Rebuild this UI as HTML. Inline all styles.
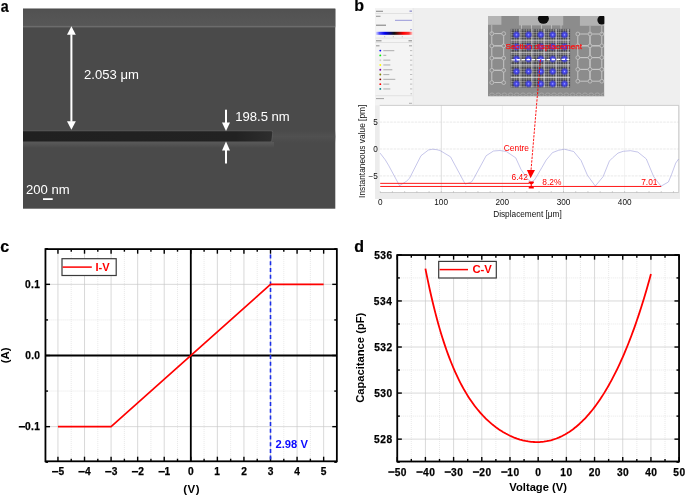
<!DOCTYPE html>
<html><head><meta charset="utf-8"><style>
html,body{margin:0;padding:0;background:#fff;}
svg{display:block;will-change:transform;font-family:"Liberation Sans", sans-serif;}
</style></head><body>
<svg width="685" height="496" viewBox="0 0 685 496">
<defs>
<filter id="soft" x="0" y="0" width="1" height="1"><feGaussianBlur stdDeviation="0.35"/></filter>
<linearGradient id="cbar" x1="0" y1="0" x2="1" y2="0"><stop offset="0" stop-color="#e0e0ff"/><stop offset="0.1" stop-color="#5050ff"/><stop offset="0.25" stop-color="#0000f0"/><stop offset="0.5" stop-color="#101010"/><stop offset="0.75" stop-color="#ff0000"/><stop offset="0.9" stop-color="#ff3030"/><stop offset="1" stop-color="#ffd0d0"/></linearGradient>
<radialGradient id="bdot"><stop offset="0" stop-color="#b0b0ff"/><stop offset="0.25" stop-color="#5050ff" stop-opacity="0.95"/><stop offset="0.55" stop-color="#2e2ef0" stop-opacity="0.7"/><stop offset="0.85" stop-color="#2525d8" stop-opacity="0.25"/><stop offset="1" stop-color="#2020d0" stop-opacity="0"/></radialGradient>
<linearGradient id="topband" x1="0" y1="0" x2="0" y2="1"><stop offset="0" stop-color="#4b4b4b"/><stop offset="0.1" stop-color="#525252"/><stop offset="1" stop-color="#575757"/></linearGradient>
<linearGradient id="bandg" x1="23" y1="0" x2="273" y2="0" gradientUnits="userSpaceOnUse"><stop offset="0" stop-color="#202020"/><stop offset="0.85" stop-color="#222"/><stop offset="1" stop-color="#2e2e2e"/></linearGradient>
<linearGradient id="streak" x1="0" y1="0" x2="0" y2="1"><stop offset="0" stop-color="#505050" stop-opacity="0"/><stop offset="0.5" stop-color="#515151" stop-opacity="0.9"/><stop offset="1" stop-color="#505050" stop-opacity="0"/></linearGradient>
<linearGradient id="halo" x1="0" y1="0" x2="0" y2="1"><stop offset="0" stop-color="#5a5a5a"/><stop offset="1" stop-color="#4a4a4a"/></linearGradient>
</defs>
<text transform="translate(0.75 11.5) scale(0.89 1)" style="font-size:16px;font-weight:bold" stroke="#000" stroke-width="0.2">a</text>
<text x="354.15" y="11.40" style="font-size:16.0px;font-weight:bold;" fill="#000" stroke="#000" stroke-width="0.2">b</text>
<text x="0.28" y="251.90" style="font-size:16.0px;font-weight:bold;" fill="#000" stroke="#000" stroke-width="0.2">c</text>
<text x="354.34" y="251.60" style="font-size:16.0px;font-weight:bold;" fill="#000" stroke="#000" stroke-width="0.2">d</text>
<g>
<rect x="23" y="8.7" width="312.3" height="200" fill="#4a4a4a"/>
<rect x="23" y="8.7" width="312.3" height="17.3" fill="url(#topband)"/>
<rect x="23" y="25.9" width="312.3" height="1.5" fill="#6c6c6c"/>
<rect x="23" y="142" width="251" height="6" fill="url(#halo)"/>
<rect x="272" y="130" width="63.3" height="13" fill="url(#streak)"/>
<path d="M23 130.6 L271.6 130.6 Q273.4 130.6 273.2 132.4 L272.2 140.8 Q272 142.2 270.6 142.2 L23 142.2 Z" fill="#5a5a5a"/>
<path d="M23 131.3 L271 131.3 Q272.4 131.3 272.3 132.6 L271.4 140.4 Q271.2 141.5 270 141.5 L23 141.5 Z" fill="url(#bandg)"/>
<rect x="70.40" y="34.30" width="2.0" height="87.50" fill="#fff"/>
<path d="M71.40 26.30 L75.80 34.80 L67.00 34.80 Z" fill="#fff"/>
<path d="M71.40 129.80 L75.80 121.30 L67.00 121.30 Z" fill="#fff"/>
<rect x="225.00" y="109.70" width="2.0" height="13.40" fill="#fff"/>
<path d="M226.00 131.00 L230.00 122.60 L222.00 122.60 Z" fill="#fff"/>
<rect x="225.00" y="149.90" width="2.0" height="13.60" fill="#fff"/>
<path d="M226.00 141.60 L230.00 150.40 L222.00 150.40 Z" fill="#fff"/>
<text x="84.04" y="78.60" style="font-size:13.1px;" fill="#fff" >2.053 μm</text>
<text x="235.20" y="120.60" style="font-size:13.1px;" fill="#fff" >198.5 nm</text>
<text x="25.94" y="194.30" style="font-size:13.1px;" fill="#fff" >200 nm</text>
<rect x="43" y="198.2" width="9.7" height="1.8" fill="#fff"/>
</g>
<g>
<rect x="375" y="8" width="305" height="191" fill="#ececec"/>
<rect x="413.5" y="8" width="266.5" height="97.4" fill="#efefef"/>
<rect x="375.2" y="8" width="37.6" height="97.4" fill="#f4f4f4"/>
<rect x="412.7" y="8" width="0.9" height="97.4" fill="#e8e8e8"/>
<rect x="376.0" y="10.7" width="7.0" height="1.3" fill="#666" opacity="0.6"/>
<rect x="409.5" y="10.5" width="2.5" height="1.3" fill="#5050b0" opacity="0.6"/>
<rect x="375.6" y="13.2" width="36.8" height="0.5" fill="#cfcfcf"/>
<rect x="376.0" y="15.7" width="4.5" height="1.3" fill="#777" opacity="0.6"/>
<rect x="395.0" y="19.8" width="17.0" height="1.1" fill="#6a6acc" opacity="0.6"/>
<rect x="376.0" y="24.6" width="10.0" height="1.3" fill="#555" opacity="0.6"/>
<rect x="410.0" y="29.2" width="2.0" height="1.0" fill="#6a6acc" opacity="0.6"/>
<rect x="375.8" y="31.8" width="36.8" height="3" fill="url(#cbar)"/>
<rect x="384.0" y="36.3" width="1.2" height="0.9" fill="#999" opacity="0.6"/>
<rect x="392.8" y="36.3" width="1.2" height="0.9" fill="#999" opacity="0.6"/>
<rect x="401.8" y="36.3" width="1.2" height="0.9" fill="#999" opacity="0.6"/>
<rect x="375.6" y="37.8" width="36.8" height="0.5" fill="#cfcfcf"/>
<rect x="376.0" y="40.1" width="5.5" height="1.3" fill="#666" opacity="0.6"/>
<rect x="408.5" y="40.1" width="3.5" height="1.3" fill="#666" opacity="0.6"/>
<rect x="375.6" y="42.5" width="36.8" height="0.5" fill="#cfcfcf"/>
<rect x="376.0" y="45.1" width="3.5" height="1.3" fill="#777" opacity="0.6"/>
<rect x="409.0" y="45.1" width="3.0" height="1.3" fill="#888" opacity="0.6"/>
<circle cx="380.3" cy="50.60" r="0.95" fill="#0000ff"/>
<rect x="383.3" y="50.1" width="11.0" height="1.1" fill="#888" opacity="0.6"/>
<rect x="410.0" y="50.1" width="2.2" height="1.0" fill="#999" opacity="0.6"/>
<circle cx="380.3" cy="55.39" r="0.95" fill="#00ee00"/>
<rect x="383.3" y="54.8" width="3.0" height="1.1" fill="#888" opacity="0.6"/>
<rect x="410.0" y="54.9" width="2.2" height="1.0" fill="#999" opacity="0.6"/>
<circle cx="380.3" cy="60.18" r="0.95" fill="#cccccc"/>
<rect x="383.3" y="59.6" width="7.0" height="1.1" fill="#888" opacity="0.6"/>
<rect x="410.0" y="59.7" width="2.2" height="1.0" fill="#999" opacity="0.6"/>
<circle cx="380.3" cy="64.97" r="0.95" fill="#ffff00"/>
<rect x="383.3" y="64.4" width="7.0" height="1.1" fill="#888" opacity="0.6"/>
<rect x="410.0" y="64.5" width="2.2" height="1.0" fill="#999" opacity="0.6"/>
<circle cx="380.3" cy="69.76" r="0.95" fill="#8000a0"/>
<rect x="383.3" y="69.2" width="9.0" height="1.1" fill="#888" opacity="0.6"/>
<rect x="410.0" y="69.3" width="2.2" height="1.0" fill="#999" opacity="0.6"/>
<circle cx="380.3" cy="74.55" r="0.95" fill="#808000"/>
<rect x="383.3" y="74.0" width="6.0" height="1.1" fill="#888" opacity="0.6"/>
<rect x="410.0" y="74.0" width="2.2" height="1.0" fill="#999" opacity="0.6"/>
<circle cx="380.3" cy="79.34" r="0.95" fill="#800000"/>
<rect x="383.3" y="78.8" width="12.0" height="1.1" fill="#888" opacity="0.6"/>
<rect x="410.0" y="78.8" width="2.2" height="1.0" fill="#999" opacity="0.6"/>
<circle cx="380.3" cy="84.13" r="0.95" fill="#ff0000"/>
<rect x="383.3" y="83.6" width="6.0" height="1.1" fill="#888" opacity="0.6"/>
<rect x="410.0" y="83.6" width="2.2" height="1.0" fill="#999" opacity="0.6"/>
<circle cx="380.3" cy="88.92" r="0.95" fill="#008080"/>
<rect x="383.3" y="88.4" width="7.0" height="1.1" fill="#888" opacity="0.6"/>
<rect x="410.0" y="88.4" width="2.2" height="1.0" fill="#999" opacity="0.6"/>
<rect x="410.5" y="93.3" width="1.5" height="1.0" fill="#999" opacity="0.6"/>
<rect x="375.6" y="95.6" width="36.8" height="0.5" fill="#cfcfcf"/>
<rect x="376.0" y="98.0" width="8.0" height="1.1" fill="#777" opacity="0.6"/>
<rect x="409.0" y="102.8" width="3.0" height="1.0" fill="#888" opacity="0.6"/>
<clipPath id="insclip"><rect x="488.0" y="16.0" width="116.4" height="80.5"/></clipPath>
<g clip-path="url(#insclip)"><g filter="url(#soft)">
<rect x="488.0" y="16.0" width="116.4" height="80.5" fill="#8c8c8c"/>
<rect x="488" y="16" width="13.4" height="8.8" fill="#b4b4b4"/>
<rect x="518.9" y="16" width="44.3" height="9.4" fill="#b2b2b2"/>
<rect x="579.9" y="16" width="24.5" height="9.8" fill="#b2b2b2"/>
<ellipse cx="543.4" cy="18.6" rx="5.5" ry="5.2" fill="#0a0a0a"/>
<ellipse cx="601.8" cy="20.0" rx="4.4" ry="4.6" fill="#0a0a0a"/>
<rect x="521.1" y="25" width="0.8" height="4" fill="#c4c4c4"/>
<rect x="531.0" y="25" width="0.8" height="4" fill="#c4c4c4"/>
<rect x="541.2" y="25" width="0.8" height="4" fill="#c4c4c4"/>
<rect x="551.1" y="25" width="0.8" height="4" fill="#c4c4c4"/>
<rect x="560.6" y="25" width="0.8" height="4" fill="#c4c4c4"/>
<rect x="491.8" y="33.6" width="11.9" height="12.2" rx="2.6" fill="none" stroke="#c6c6c6" stroke-width="1.0"/>
<rect x="491.8" y="45.9" width="11.9" height="12.2" rx="2.6" fill="none" stroke="#c6c6c6" stroke-width="1.0"/>
<rect x="491.8" y="58.1" width="11.9" height="12.2" rx="2.6" fill="none" stroke="#c6c6c6" stroke-width="1.0"/>
<rect x="491.8" y="70.3" width="11.9" height="12.2" rx="2.6" fill="none" stroke="#c6c6c6" stroke-width="1.0"/>
<circle cx="491.8" cy="33.6" r="1.9" fill="#8c8c8c" stroke="#c6c6c6" stroke-width="0.8"/>
<circle cx="491.8" cy="45.9" r="1.9" fill="#8c8c8c" stroke="#c6c6c6" stroke-width="0.8"/>
<circle cx="491.8" cy="58.1" r="1.9" fill="#8c8c8c" stroke="#c6c6c6" stroke-width="0.8"/>
<circle cx="491.8" cy="70.3" r="1.9" fill="#8c8c8c" stroke="#c6c6c6" stroke-width="0.8"/>
<circle cx="491.8" cy="82.6" r="1.9" fill="#8c8c8c" stroke="#c6c6c6" stroke-width="0.8"/>
<circle cx="503.7" cy="33.6" r="1.9" fill="#8c8c8c" stroke="#c6c6c6" stroke-width="0.8"/>
<circle cx="503.7" cy="45.9" r="1.9" fill="#8c8c8c" stroke="#c6c6c6" stroke-width="0.8"/>
<circle cx="503.7" cy="58.1" r="1.9" fill="#8c8c8c" stroke="#c6c6c6" stroke-width="0.8"/>
<circle cx="503.7" cy="70.3" r="1.9" fill="#8c8c8c" stroke="#c6c6c6" stroke-width="0.8"/>
<circle cx="503.7" cy="82.6" r="1.9" fill="#8c8c8c" stroke="#c6c6c6" stroke-width="0.8"/>
<rect x="491.4" y="24.8" width="0.8" height="8.8" fill="#c2c2c2"/>
<rect x="577.8" y="34.0" width="12.2" height="11.8" rx="2.6" fill="none" stroke="#c6c6c6" stroke-width="1.0"/>
<rect x="577.8" y="45.8" width="12.2" height="11.8" rx="2.6" fill="none" stroke="#c6c6c6" stroke-width="1.0"/>
<rect x="577.8" y="57.6" width="12.2" height="11.8" rx="2.6" fill="none" stroke="#c6c6c6" stroke-width="1.0"/>
<rect x="577.8" y="69.4" width="12.2" height="11.8" rx="2.6" fill="none" stroke="#c6c6c6" stroke-width="1.0"/>
<rect x="590.0" y="34.0" width="11.8" height="11.8" rx="2.6" fill="none" stroke="#c6c6c6" stroke-width="1.0"/>
<rect x="590.0" y="45.8" width="11.8" height="11.8" rx="2.6" fill="none" stroke="#c6c6c6" stroke-width="1.0"/>
<rect x="590.0" y="57.6" width="11.8" height="11.8" rx="2.6" fill="none" stroke="#c6c6c6" stroke-width="1.0"/>
<rect x="590.0" y="69.4" width="11.8" height="11.8" rx="2.6" fill="none" stroke="#c6c6c6" stroke-width="1.0"/>
<circle cx="577.8" cy="34.0" r="1.9" fill="#8c8c8c" stroke="#c6c6c6" stroke-width="0.8"/>
<circle cx="577.8" cy="45.8" r="1.9" fill="#8c8c8c" stroke="#c6c6c6" stroke-width="0.8"/>
<circle cx="577.8" cy="57.6" r="1.9" fill="#8c8c8c" stroke="#c6c6c6" stroke-width="0.8"/>
<circle cx="577.8" cy="69.4" r="1.9" fill="#8c8c8c" stroke="#c6c6c6" stroke-width="0.8"/>
<circle cx="577.8" cy="81.2" r="1.9" fill="#8c8c8c" stroke="#c6c6c6" stroke-width="0.8"/>
<circle cx="590.0" cy="34.0" r="1.9" fill="#8c8c8c" stroke="#c6c6c6" stroke-width="0.8"/>
<circle cx="590.0" cy="45.8" r="1.9" fill="#8c8c8c" stroke="#c6c6c6" stroke-width="0.8"/>
<circle cx="590.0" cy="57.6" r="1.9" fill="#8c8c8c" stroke="#c6c6c6" stroke-width="0.8"/>
<circle cx="590.0" cy="69.4" r="1.9" fill="#8c8c8c" stroke="#c6c6c6" stroke-width="0.8"/>
<circle cx="590.0" cy="81.2" r="1.9" fill="#8c8c8c" stroke="#c6c6c6" stroke-width="0.8"/>
<circle cx="601.8" cy="34.0" r="1.9" fill="#8c8c8c" stroke="#c6c6c6" stroke-width="0.8"/>
<circle cx="601.8" cy="45.8" r="1.9" fill="#8c8c8c" stroke="#c6c6c6" stroke-width="0.8"/>
<circle cx="601.8" cy="57.6" r="1.9" fill="#8c8c8c" stroke="#c6c6c6" stroke-width="0.8"/>
<circle cx="601.8" cy="69.4" r="1.9" fill="#8c8c8c" stroke="#c6c6c6" stroke-width="0.8"/>
<circle cx="601.8" cy="81.2" r="1.9" fill="#8c8c8c" stroke="#c6c6c6" stroke-width="0.8"/>
<rect x="589.6" y="25.8" width="0.8" height="8.2" fill="#c2c2c2"/>
<rect x="601.4" y="25.8" width="0.8" height="8.2" fill="#c2c2c2"/>
<ellipse cx="492.0" cy="94.6" rx="2.3" ry="1.6" fill="none" stroke="#acacac" stroke-width="0.8"/>
<ellipse cx="498.2" cy="94.6" rx="2.3" ry="1.6" fill="none" stroke="#acacac" stroke-width="0.8"/>
<ellipse cx="504.4" cy="94.6" rx="2.3" ry="1.6" fill="none" stroke="#acacac" stroke-width="0.8"/>
<ellipse cx="510.6" cy="94.6" rx="2.3" ry="1.6" fill="none" stroke="#acacac" stroke-width="0.8"/>
<ellipse cx="516.8" cy="94.6" rx="2.3" ry="1.6" fill="none" stroke="#acacac" stroke-width="0.8"/>
<ellipse cx="523.0" cy="94.6" rx="2.3" ry="1.6" fill="none" stroke="#acacac" stroke-width="0.8"/>
<ellipse cx="529.2" cy="94.6" rx="2.3" ry="1.6" fill="none" stroke="#acacac" stroke-width="0.8"/>
<ellipse cx="535.4" cy="94.6" rx="2.3" ry="1.6" fill="none" stroke="#acacac" stroke-width="0.8"/>
<ellipse cx="541.6" cy="94.6" rx="2.3" ry="1.6" fill="none" stroke="#acacac" stroke-width="0.8"/>
<ellipse cx="547.8" cy="94.6" rx="2.3" ry="1.6" fill="none" stroke="#acacac" stroke-width="0.8"/>
<ellipse cx="554.0" cy="94.6" rx="2.3" ry="1.6" fill="none" stroke="#acacac" stroke-width="0.8"/>
<ellipse cx="560.2" cy="94.6" rx="2.3" ry="1.6" fill="none" stroke="#acacac" stroke-width="0.8"/>
<ellipse cx="566.4" cy="94.6" rx="2.3" ry="1.6" fill="none" stroke="#acacac" stroke-width="0.8"/>
<ellipse cx="572.6" cy="94.6" rx="2.3" ry="1.6" fill="none" stroke="#acacac" stroke-width="0.8"/>
<ellipse cx="578.8" cy="94.6" rx="2.3" ry="1.6" fill="none" stroke="#acacac" stroke-width="0.8"/>
<ellipse cx="585.0" cy="94.6" rx="2.3" ry="1.6" fill="none" stroke="#acacac" stroke-width="0.8"/>
<ellipse cx="591.2" cy="94.6" rx="2.3" ry="1.6" fill="none" stroke="#acacac" stroke-width="0.8"/>
<ellipse cx="597.4" cy="94.6" rx="2.3" ry="1.6" fill="none" stroke="#acacac" stroke-width="0.8"/>
<ellipse cx="603.6" cy="94.6" rx="2.3" ry="1.6" fill="none" stroke="#acacac" stroke-width="0.8"/>
<rect x="510.7" y="28.9" width="59.4" height="58.5" fill="#48484c"/>
<rect x="511.50" y="28.9" width="0.55" height="58.5" fill="#d8d8d8" opacity="0.6"/>
<rect x="513.95" y="28.9" width="0.55" height="58.5" fill="#d8d8d8" opacity="0.6"/>
<rect x="516.40" y="28.9" width="0.55" height="58.5" fill="#d8d8d8" opacity="0.6"/>
<rect x="518.85" y="28.9" width="0.55" height="58.5" fill="#d8d8d8" opacity="0.6"/>
<rect x="521.30" y="28.9" width="0.55" height="58.5" fill="#d8d8d8" opacity="0.6"/>
<rect x="523.75" y="28.9" width="0.55" height="58.5" fill="#d8d8d8" opacity="0.6"/>
<rect x="526.20" y="28.9" width="0.55" height="58.5" fill="#d8d8d8" opacity="0.6"/>
<rect x="528.65" y="28.9" width="0.55" height="58.5" fill="#d8d8d8" opacity="0.6"/>
<rect x="531.10" y="28.9" width="0.55" height="58.5" fill="#d8d8d8" opacity="0.6"/>
<rect x="533.55" y="28.9" width="0.55" height="58.5" fill="#d8d8d8" opacity="0.6"/>
<rect x="536.00" y="28.9" width="0.55" height="58.5" fill="#d8d8d8" opacity="0.6"/>
<rect x="538.45" y="28.9" width="0.55" height="58.5" fill="#d8d8d8" opacity="0.6"/>
<rect x="540.90" y="28.9" width="0.55" height="58.5" fill="#d8d8d8" opacity="0.6"/>
<rect x="543.35" y="28.9" width="0.55" height="58.5" fill="#d8d8d8" opacity="0.6"/>
<rect x="545.80" y="28.9" width="0.55" height="58.5" fill="#d8d8d8" opacity="0.6"/>
<rect x="548.25" y="28.9" width="0.55" height="58.5" fill="#d8d8d8" opacity="0.6"/>
<rect x="550.70" y="28.9" width="0.55" height="58.5" fill="#d8d8d8" opacity="0.6"/>
<rect x="553.15" y="28.9" width="0.55" height="58.5" fill="#d8d8d8" opacity="0.6"/>
<rect x="555.60" y="28.9" width="0.55" height="58.5" fill="#d8d8d8" opacity="0.6"/>
<rect x="558.05" y="28.9" width="0.55" height="58.5" fill="#d8d8d8" opacity="0.6"/>
<rect x="560.50" y="28.9" width="0.55" height="58.5" fill="#d8d8d8" opacity="0.6"/>
<rect x="562.95" y="28.9" width="0.55" height="58.5" fill="#d8d8d8" opacity="0.6"/>
<rect x="565.40" y="28.9" width="0.55" height="58.5" fill="#d8d8d8" opacity="0.6"/>
<rect x="567.85" y="28.9" width="0.55" height="58.5" fill="#d8d8d8" opacity="0.6"/>
<rect x="510.7" y="29.70" width="59.4" height="0.55" fill="#d8d8d8" opacity="0.6"/>
<rect x="510.7" y="32.15" width="59.4" height="0.55" fill="#d8d8d8" opacity="0.6"/>
<rect x="510.7" y="34.60" width="59.4" height="0.55" fill="#d8d8d8" opacity="0.6"/>
<rect x="510.7" y="37.05" width="59.4" height="0.55" fill="#d8d8d8" opacity="0.6"/>
<rect x="510.7" y="39.50" width="59.4" height="0.55" fill="#d8d8d8" opacity="0.6"/>
<rect x="510.7" y="41.95" width="59.4" height="0.55" fill="#d8d8d8" opacity="0.6"/>
<rect x="510.7" y="44.40" width="59.4" height="0.55" fill="#d8d8d8" opacity="0.6"/>
<rect x="510.7" y="46.85" width="59.4" height="0.55" fill="#d8d8d8" opacity="0.6"/>
<rect x="510.7" y="49.30" width="59.4" height="0.55" fill="#d8d8d8" opacity="0.6"/>
<rect x="510.7" y="51.75" width="59.4" height="0.55" fill="#d8d8d8" opacity="0.6"/>
<rect x="510.7" y="54.20" width="59.4" height="0.55" fill="#d8d8d8" opacity="0.6"/>
<rect x="510.7" y="56.65" width="59.4" height="0.55" fill="#d8d8d8" opacity="0.6"/>
<rect x="510.7" y="59.10" width="59.4" height="0.55" fill="#d8d8d8" opacity="0.6"/>
<rect x="510.7" y="61.55" width="59.4" height="0.55" fill="#d8d8d8" opacity="0.6"/>
<rect x="510.7" y="64.00" width="59.4" height="0.55" fill="#d8d8d8" opacity="0.6"/>
<rect x="510.7" y="66.45" width="59.4" height="0.55" fill="#d8d8d8" opacity="0.6"/>
<rect x="510.7" y="68.90" width="59.4" height="0.55" fill="#d8d8d8" opacity="0.6"/>
<rect x="510.7" y="71.35" width="59.4" height="0.55" fill="#d8d8d8" opacity="0.6"/>
<rect x="510.7" y="73.80" width="59.4" height="0.55" fill="#d8d8d8" opacity="0.6"/>
<rect x="510.7" y="76.25" width="59.4" height="0.55" fill="#d8d8d8" opacity="0.6"/>
<rect x="510.7" y="78.70" width="59.4" height="0.55" fill="#d8d8d8" opacity="0.6"/>
<rect x="510.7" y="81.15" width="59.4" height="0.55" fill="#d8d8d8" opacity="0.6"/>
<rect x="510.7" y="83.60" width="59.4" height="0.55" fill="#d8d8d8" opacity="0.6"/>
<rect x="510.7" y="86.05" width="59.4" height="0.55" fill="#d8d8d8" opacity="0.6"/>
<rect x="519.55" y="28.9" width="0.9" height="58.5" fill="#f0f0f0" opacity="0.75"/>
<rect x="531.55" y="28.9" width="0.9" height="58.5" fill="#f0f0f0" opacity="0.75"/>
<rect x="543.85" y="28.9" width="0.9" height="58.5" fill="#f0f0f0" opacity="0.75"/>
<rect x="555.75" y="28.9" width="0.9" height="58.5" fill="#f0f0f0" opacity="0.75"/>
<rect x="567.55" y="28.9" width="0.9" height="58.5" fill="#f0f0f0" opacity="0.75"/>
<rect x="510.7" y="40.35" width="59.4" height="0.9" fill="#f0f0f0" opacity="0.75"/>
<rect x="510.7" y="52.35" width="59.4" height="0.9" fill="#f0f0f0" opacity="0.75"/>
<rect x="510.7" y="64.55" width="59.4" height="0.9" fill="#f0f0f0" opacity="0.75"/>
<rect x="510.7" y="77.05" width="59.4" height="0.9" fill="#f0f0f0" opacity="0.75"/>
<circle cx="516.5" cy="34.8" r="4.2" fill="url(#bdot)"/>
<circle cx="528.5" cy="34.8" r="4.2" fill="url(#bdot)"/>
<circle cx="540.8" cy="34.8" r="4.2" fill="url(#bdot)"/>
<circle cx="552.7" cy="34.8" r="4.2" fill="url(#bdot)"/>
<circle cx="564.5" cy="34.8" r="4.2" fill="url(#bdot)"/>
<circle cx="516.5" cy="46.8" r="4.2" fill="url(#bdot)"/>
<circle cx="528.5" cy="46.8" r="4.2" fill="url(#bdot)"/>
<circle cx="540.8" cy="46.8" r="4.2" fill="url(#bdot)"/>
<circle cx="552.7" cy="46.8" r="4.2" fill="url(#bdot)"/>
<circle cx="564.5" cy="46.8" r="4.2" fill="url(#bdot)"/>
<circle cx="516.5" cy="59.0" r="4.2" fill="url(#bdot)"/>
<circle cx="528.5" cy="59.0" r="4.2" fill="url(#bdot)"/>
<circle cx="540.8" cy="59.0" r="4.2" fill="url(#bdot)"/>
<circle cx="552.7" cy="59.0" r="4.2" fill="url(#bdot)"/>
<circle cx="564.5" cy="59.0" r="4.2" fill="url(#bdot)"/>
<circle cx="516.5" cy="71.5" r="4.2" fill="url(#bdot)"/>
<circle cx="528.5" cy="71.5" r="4.2" fill="url(#bdot)"/>
<circle cx="540.8" cy="71.5" r="4.2" fill="url(#bdot)"/>
<circle cx="552.7" cy="71.5" r="4.2" fill="url(#bdot)"/>
<circle cx="564.5" cy="71.5" r="4.2" fill="url(#bdot)"/>
<circle cx="516.5" cy="83.8" r="4.2" fill="url(#bdot)"/>
<circle cx="528.5" cy="83.8" r="4.2" fill="url(#bdot)"/>
<circle cx="540.8" cy="83.8" r="4.2" fill="url(#bdot)"/>
<circle cx="552.7" cy="83.8" r="4.2" fill="url(#bdot)"/>
<circle cx="564.5" cy="83.8" r="4.2" fill="url(#bdot)"/>
<line x1="511.6" y1="59.8" x2="569.2" y2="59.4" stroke="#fff" stroke-width="1.3" stroke-dasharray="3.4 1.6"/>
</g></g>
<text x="505.53" y="49.20" style="font-size:8.06px;" fill="#ff1010" stroke="#ff1010" stroke-width="0.25">Section displacement</text>
<rect x="379.7" y="105.4" width="299.0" height="87.1" fill="#fff"/>
<line x1="441.30" y1="105.4" x2="441.30" y2="192.5" stroke="#d0d0d0" stroke-width="0.7"/>
<line x1="502.40" y1="105.4" x2="502.40" y2="192.5" stroke="#ececec" stroke-width="0.7"/>
<line x1="563.50" y1="105.4" x2="563.50" y2="192.5" stroke="#d0d0d0" stroke-width="0.7"/>
<line x1="624.60" y1="105.4" x2="624.60" y2="192.5" stroke="#ececec" stroke-width="0.7"/>
<line x1="379.7" y1="122.10" x2="678.7" y2="122.10" stroke="#e0e0e0" stroke-width="0.7" stroke-dasharray="2.5 1"/>
<line x1="379.7" y1="149.00" x2="678.7" y2="149.00" stroke="#e0e0e0" stroke-width="0.7" stroke-dasharray="2.5 1"/>
<line x1="379.7" y1="175.90" x2="678.7" y2="175.90" stroke="#e0e0e0" stroke-width="0.7" stroke-dasharray="2.5 1"/>
<path d="M379.7 105.4 L678.7 105.4 L678.7 192.5 L380.0 192.5" fill="none" stroke="#bcbcbc" stroke-width="0.7"/>
<line x1="380.20" y1="192.5" x2="380.20" y2="191.2" stroke="#aaa" stroke-width="0.6"/>
<line x1="392.42" y1="192.5" x2="392.42" y2="191.2" stroke="#aaa" stroke-width="0.6"/>
<line x1="404.64" y1="192.5" x2="404.64" y2="191.2" stroke="#aaa" stroke-width="0.6"/>
<line x1="416.86" y1="192.5" x2="416.86" y2="191.2" stroke="#aaa" stroke-width="0.6"/>
<line x1="429.08" y1="192.5" x2="429.08" y2="191.2" stroke="#aaa" stroke-width="0.6"/>
<line x1="441.30" y1="192.5" x2="441.30" y2="191.2" stroke="#aaa" stroke-width="0.6"/>
<line x1="453.52" y1="192.5" x2="453.52" y2="191.2" stroke="#aaa" stroke-width="0.6"/>
<line x1="465.74" y1="192.5" x2="465.74" y2="191.2" stroke="#aaa" stroke-width="0.6"/>
<line x1="477.96" y1="192.5" x2="477.96" y2="191.2" stroke="#aaa" stroke-width="0.6"/>
<line x1="490.18" y1="192.5" x2="490.18" y2="191.2" stroke="#aaa" stroke-width="0.6"/>
<line x1="502.40" y1="192.5" x2="502.40" y2="191.2" stroke="#aaa" stroke-width="0.6"/>
<line x1="514.62" y1="192.5" x2="514.62" y2="191.2" stroke="#aaa" stroke-width="0.6"/>
<line x1="526.84" y1="192.5" x2="526.84" y2="191.2" stroke="#aaa" stroke-width="0.6"/>
<line x1="539.06" y1="192.5" x2="539.06" y2="191.2" stroke="#aaa" stroke-width="0.6"/>
<line x1="551.28" y1="192.5" x2="551.28" y2="191.2" stroke="#aaa" stroke-width="0.6"/>
<line x1="563.50" y1="192.5" x2="563.50" y2="191.2" stroke="#aaa" stroke-width="0.6"/>
<line x1="575.72" y1="192.5" x2="575.72" y2="191.2" stroke="#aaa" stroke-width="0.6"/>
<line x1="587.94" y1="192.5" x2="587.94" y2="191.2" stroke="#aaa" stroke-width="0.6"/>
<line x1="600.16" y1="192.5" x2="600.16" y2="191.2" stroke="#aaa" stroke-width="0.6"/>
<line x1="612.38" y1="192.5" x2="612.38" y2="191.2" stroke="#aaa" stroke-width="0.6"/>
<line x1="624.60" y1="192.5" x2="624.60" y2="191.2" stroke="#aaa" stroke-width="0.6"/>
<line x1="636.82" y1="192.5" x2="636.82" y2="191.2" stroke="#aaa" stroke-width="0.6"/>
<line x1="649.04" y1="192.5" x2="649.04" y2="191.2" stroke="#aaa" stroke-width="0.6"/>
<line x1="661.26" y1="192.5" x2="661.26" y2="191.2" stroke="#aaa" stroke-width="0.6"/>
<line x1="673.48" y1="192.5" x2="673.48" y2="191.2" stroke="#aaa" stroke-width="0.6"/>
<path d="M380.1 153.1 L385.3 159.9 L388.5 165.2 L399.5 185.6 L406.3 181.4 L409.5 178.3 L421.0 155.7 L428.4 150.0 L432.6 149.2 L436.8 149.7 L440.0 150.5 L450.5 156.8 L465.2 184.1 L471.5 182.0 L473.6 178.8 L486.2 155.7 L493.5 151.0 L500.0 150.5 L506.3 151.5 L515.7 157.8 L521.0 169.4 L527.3 178.8 L531.5 182.0 L534.6 179.9 L542.0 167.3 L546.2 160.0 L552.5 152.6 L558.5 150.3 L564.3 149.2 L573.7 151.5 L581.1 160.5 L587.4 175.2 L595.3 186.0 L603.1 176.7 L609.4 161.0 L612.6 157.8 L618.0 153.1 L623.2 151.3 L630.6 150.7 L637.9 152.1 L646.3 158.9 L653.7 176.7 L661.0 186.2 L668.4 182.0 L671.5 174.6 L675.7 163.1 L678.6 159.0" fill="none" stroke="#8c8cd4" stroke-width="0.5" stroke-linejoin="round"/>
<rect x="380.2" y="182.85" width="149" height="1.0" fill="#ff1818"/>
<rect x="380.2" y="185.95" width="281" height="1.0" fill="#ff1818"/>
<path d="M528.7 181.6 L533.8 181.6 L533.8 182.9 L531.7 184.6 L531.7 185.6 L533.8 187.2 L533.8 188.5 L528.7 188.5 L528.7 187.2 L530.8 185.6 L530.8 184.6 L528.7 182.9 Z" fill="#ff0000"/>
<path d="M526.9 169.9 L535.0 169.9 L530.6 178.2 Z" fill="#ff0000"/>
<line x1="540.4" y1="59.8" x2="531.0" y2="170.5" stroke="#ff0000" stroke-width="0.9" stroke-dasharray="2.4 1.2"/>
<text x="503.77" y="151.00" style="font-size:8.4px;" fill="#ff0000" >Centre</text>
<text x="511.57" y="179.80" style="font-size:8.4px;" fill="#ff0000" >6.42</text>
<text x="542.33" y="184.80" style="font-size:8.4px;" fill="#ff0000" >8.2%</text>
<text x="641.17" y="185.00" style="font-size:8.4px;" fill="#ff0000" >7.01</text>
<text x="373.18" y="125.00" style="font-size:8.2px;" fill="#111" >5</text>
<text x="373.16" y="151.90" style="font-size:8.2px;" fill="#111" >0</text>
<text x="368.40" y="178.80" style="font-size:8.2px;" fill="#111" >−5</text>
<text x="377.92" y="204.80" style="font-size:8.2px;" fill="#111" >0</text>
<text x="434.31" y="204.80" style="font-size:8.2px;" fill="#111" >100</text>
<text x="495.51" y="204.80" style="font-size:8.2px;" fill="#111" >200</text>
<text x="556.66" y="204.80" style="font-size:8.2px;" fill="#111" >300</text>
<text x="617.83" y="204.80" style="font-size:8.2px;" fill="#111" >400</text>
<text x="493.21" y="216.90" style="font-size:8.25px;" fill="#111" >Displacement [μm]</text>
<text transform="translate(365.4 151.3) rotate(-90)" text-anchor="middle" style="font-size:8.35px" fill="#111">Instantaneous value [pm]</text>
</g>
<g>
<line x1="57.95" y1="249.10" x2="57.95" y2="461.30" stroke="#c8c8c8" stroke-width="0.7"/>
<line x1="71.24" y1="249.10" x2="71.24" y2="461.30" stroke="#d8d8d8" stroke-width="0.6" stroke-dasharray="1 1"/>
<line x1="84.52" y1="249.10" x2="84.52" y2="461.30" stroke="#c8c8c8" stroke-width="0.7"/>
<line x1="97.81" y1="249.10" x2="97.81" y2="461.30" stroke="#d8d8d8" stroke-width="0.6" stroke-dasharray="1 1"/>
<line x1="111.09" y1="249.10" x2="111.09" y2="461.30" stroke="#c8c8c8" stroke-width="0.7"/>
<line x1="124.38" y1="249.10" x2="124.38" y2="461.30" stroke="#d8d8d8" stroke-width="0.6" stroke-dasharray="1 1"/>
<line x1="137.66" y1="249.10" x2="137.66" y2="461.30" stroke="#c8c8c8" stroke-width="0.7"/>
<line x1="150.94" y1="249.10" x2="150.94" y2="461.30" stroke="#d8d8d8" stroke-width="0.6" stroke-dasharray="1 1"/>
<line x1="164.23" y1="249.10" x2="164.23" y2="461.30" stroke="#c8c8c8" stroke-width="0.7"/>
<line x1="177.52" y1="249.10" x2="177.52" y2="461.30" stroke="#d8d8d8" stroke-width="0.6" stroke-dasharray="1 1"/>
<line x1="190.80" y1="249.10" x2="190.80" y2="461.30" stroke="#c8c8c8" stroke-width="0.7"/>
<line x1="204.09" y1="249.10" x2="204.09" y2="461.30" stroke="#d8d8d8" stroke-width="0.6" stroke-dasharray="1 1"/>
<line x1="217.37" y1="249.10" x2="217.37" y2="461.30" stroke="#c8c8c8" stroke-width="0.7"/>
<line x1="230.66" y1="249.10" x2="230.66" y2="461.30" stroke="#d8d8d8" stroke-width="0.6" stroke-dasharray="1 1"/>
<line x1="243.94" y1="249.10" x2="243.94" y2="461.30" stroke="#c8c8c8" stroke-width="0.7"/>
<line x1="257.23" y1="249.10" x2="257.23" y2="461.30" stroke="#d8d8d8" stroke-width="0.6" stroke-dasharray="1 1"/>
<line x1="270.51" y1="249.10" x2="270.51" y2="461.30" stroke="#c8c8c8" stroke-width="0.7"/>
<line x1="283.80" y1="249.10" x2="283.80" y2="461.30" stroke="#d8d8d8" stroke-width="0.6" stroke-dasharray="1 1"/>
<line x1="297.08" y1="249.10" x2="297.08" y2="461.30" stroke="#c8c8c8" stroke-width="0.7"/>
<line x1="310.37" y1="249.10" x2="310.37" y2="461.30" stroke="#d8d8d8" stroke-width="0.6" stroke-dasharray="1 1"/>
<line x1="323.65" y1="249.10" x2="323.65" y2="461.30" stroke="#c8c8c8" stroke-width="0.7"/>
<line x1="45.45" y1="426.65" x2="336.85" y2="426.65" stroke="#c8c8c8" stroke-width="0.7"/>
<line x1="45.45" y1="391.07" x2="336.85" y2="391.07" stroke="#d8d8d8" stroke-width="0.6" stroke-dasharray="1 1"/>
<line x1="45.45" y1="355.50" x2="336.85" y2="355.50" stroke="#c8c8c8" stroke-width="0.7"/>
<line x1="45.45" y1="319.93" x2="336.85" y2="319.93" stroke="#d8d8d8" stroke-width="0.6" stroke-dasharray="1 1"/>
<line x1="45.45" y1="284.35" x2="336.85" y2="284.35" stroke="#c8c8c8" stroke-width="0.7"/>
<line x1="190.80" y1="249.10" x2="190.80" y2="461.30" stroke="#000" stroke-width="1.8"/>
<line x1="45.45" y1="355.50" x2="336.85" y2="355.50" stroke="#000" stroke-width="1.8"/>
<line x1="57.95" y1="461.30" x2="57.95" y2="456.70" stroke="#000" stroke-width="1.4"/>
<line x1="57.95" y1="249.10" x2="57.95" y2="253.70" stroke="#000" stroke-width="1.4"/>
<line x1="71.24" y1="461.30" x2="71.24" y2="458.70" stroke="#000" stroke-width="1.4"/>
<line x1="71.24" y1="249.10" x2="71.24" y2="251.70" stroke="#000" stroke-width="1.4"/>
<line x1="84.52" y1="461.30" x2="84.52" y2="456.70" stroke="#000" stroke-width="1.4"/>
<line x1="84.52" y1="249.10" x2="84.52" y2="253.70" stroke="#000" stroke-width="1.4"/>
<line x1="97.81" y1="461.30" x2="97.81" y2="458.70" stroke="#000" stroke-width="1.4"/>
<line x1="97.81" y1="249.10" x2="97.81" y2="251.70" stroke="#000" stroke-width="1.4"/>
<line x1="111.09" y1="461.30" x2="111.09" y2="456.70" stroke="#000" stroke-width="1.4"/>
<line x1="111.09" y1="249.10" x2="111.09" y2="253.70" stroke="#000" stroke-width="1.4"/>
<line x1="124.38" y1="461.30" x2="124.38" y2="458.70" stroke="#000" stroke-width="1.4"/>
<line x1="124.38" y1="249.10" x2="124.38" y2="251.70" stroke="#000" stroke-width="1.4"/>
<line x1="137.66" y1="461.30" x2="137.66" y2="456.70" stroke="#000" stroke-width="1.4"/>
<line x1="137.66" y1="249.10" x2="137.66" y2="253.70" stroke="#000" stroke-width="1.4"/>
<line x1="150.94" y1="461.30" x2="150.94" y2="458.70" stroke="#000" stroke-width="1.4"/>
<line x1="150.94" y1="249.10" x2="150.94" y2="251.70" stroke="#000" stroke-width="1.4"/>
<line x1="164.23" y1="461.30" x2="164.23" y2="456.70" stroke="#000" stroke-width="1.4"/>
<line x1="164.23" y1="249.10" x2="164.23" y2="253.70" stroke="#000" stroke-width="1.4"/>
<line x1="177.52" y1="461.30" x2="177.52" y2="458.70" stroke="#000" stroke-width="1.4"/>
<line x1="177.52" y1="249.10" x2="177.52" y2="251.70" stroke="#000" stroke-width="1.4"/>
<line x1="190.80" y1="461.30" x2="190.80" y2="456.70" stroke="#000" stroke-width="1.4"/>
<line x1="190.80" y1="249.10" x2="190.80" y2="253.70" stroke="#000" stroke-width="1.4"/>
<line x1="204.09" y1="461.30" x2="204.09" y2="458.70" stroke="#000" stroke-width="1.4"/>
<line x1="204.09" y1="249.10" x2="204.09" y2="251.70" stroke="#000" stroke-width="1.4"/>
<line x1="217.37" y1="461.30" x2="217.37" y2="456.70" stroke="#000" stroke-width="1.4"/>
<line x1="217.37" y1="249.10" x2="217.37" y2="253.70" stroke="#000" stroke-width="1.4"/>
<line x1="230.66" y1="461.30" x2="230.66" y2="458.70" stroke="#000" stroke-width="1.4"/>
<line x1="230.66" y1="249.10" x2="230.66" y2="251.70" stroke="#000" stroke-width="1.4"/>
<line x1="243.94" y1="461.30" x2="243.94" y2="456.70" stroke="#000" stroke-width="1.4"/>
<line x1="243.94" y1="249.10" x2="243.94" y2="253.70" stroke="#000" stroke-width="1.4"/>
<line x1="257.23" y1="461.30" x2="257.23" y2="458.70" stroke="#000" stroke-width="1.4"/>
<line x1="257.23" y1="249.10" x2="257.23" y2="251.70" stroke="#000" stroke-width="1.4"/>
<line x1="270.51" y1="461.30" x2="270.51" y2="456.70" stroke="#000" stroke-width="1.4"/>
<line x1="270.51" y1="249.10" x2="270.51" y2="253.70" stroke="#000" stroke-width="1.4"/>
<line x1="283.80" y1="461.30" x2="283.80" y2="458.70" stroke="#000" stroke-width="1.4"/>
<line x1="283.80" y1="249.10" x2="283.80" y2="251.70" stroke="#000" stroke-width="1.4"/>
<line x1="297.08" y1="461.30" x2="297.08" y2="456.70" stroke="#000" stroke-width="1.4"/>
<line x1="297.08" y1="249.10" x2="297.08" y2="253.70" stroke="#000" stroke-width="1.4"/>
<line x1="310.37" y1="461.30" x2="310.37" y2="458.70" stroke="#000" stroke-width="1.4"/>
<line x1="310.37" y1="249.10" x2="310.37" y2="251.70" stroke="#000" stroke-width="1.4"/>
<line x1="323.65" y1="461.30" x2="323.65" y2="456.70" stroke="#000" stroke-width="1.4"/>
<line x1="323.65" y1="249.10" x2="323.65" y2="253.70" stroke="#000" stroke-width="1.4"/>
<line x1="45.45" y1="462.23" x2="48.05" y2="462.23" stroke="#000" stroke-width="1.4"/>
<line x1="336.85" y1="462.23" x2="334.25" y2="462.23" stroke="#000" stroke-width="1.4"/>
<line x1="45.45" y1="426.65" x2="50.05" y2="426.65" stroke="#000" stroke-width="1.4"/>
<line x1="336.85" y1="426.65" x2="332.25" y2="426.65" stroke="#000" stroke-width="1.4"/>
<line x1="45.45" y1="391.07" x2="48.05" y2="391.07" stroke="#000" stroke-width="1.4"/>
<line x1="336.85" y1="391.07" x2="334.25" y2="391.07" stroke="#000" stroke-width="1.4"/>
<line x1="45.45" y1="355.50" x2="50.05" y2="355.50" stroke="#000" stroke-width="1.4"/>
<line x1="336.85" y1="355.50" x2="332.25" y2="355.50" stroke="#000" stroke-width="1.4"/>
<line x1="45.45" y1="319.93" x2="48.05" y2="319.93" stroke="#000" stroke-width="1.4"/>
<line x1="336.85" y1="319.93" x2="334.25" y2="319.93" stroke="#000" stroke-width="1.4"/>
<line x1="45.45" y1="284.35" x2="50.05" y2="284.35" stroke="#000" stroke-width="1.4"/>
<line x1="336.85" y1="284.35" x2="332.25" y2="284.35" stroke="#000" stroke-width="1.4"/>
<line x1="45.45" y1="248.77" x2="48.05" y2="248.77" stroke="#000" stroke-width="1.4"/>
<line x1="336.85" y1="248.77" x2="334.25" y2="248.77" stroke="#000" stroke-width="1.4"/>
<line x1="270.51" y1="254.60" x2="270.51" y2="460.30" stroke="#1a2ee8" stroke-width="1.6" stroke-dasharray="4 2.7"/>
<path d="M57.95 426.65 L111.09 426.65 L270.51 284.35 L323.65 284.35" fill="none" stroke="#ff0000" stroke-width="1.7" stroke-linejoin="round"/>
<rect x="45.45" y="249.1" width="291.4" height="212.2" fill="none" stroke="#000" stroke-width="1.8"/>
<rect x="62" y="258.7" width="54.2" height="16.8" fill="#fff" stroke="#3a3a3a" stroke-width="1.2"/>
<line x1="62.6" y1="267.1" x2="91.8" y2="267.1" stroke="#ff0000" stroke-width="1.5"/>
<text x="95.46" y="271.00" style="font-size:11.1px;font-weight:bold;" fill="#ff0000" >I-V</text>
<text x="275.51" y="447.90" style="font-size:11.2px;font-weight:bold;" fill="#0a0aff" >2.98 V</text>
<rect x="52.06" y="470.95" width="6.3" height="1.55" fill="#000"/>
<text x="58.45" y="475.30" style="font-size:10.2px;font-weight:bold;letter-spacing:0.5px" stroke="#000" stroke-width="0.25">5</text>
<rect x="78.44" y="470.95" width="6.3" height="1.55" fill="#000"/>
<text x="84.98" y="475.30" style="font-size:10.2px;font-weight:bold;letter-spacing:0.5px" stroke="#000" stroke-width="0.25">4</text>
<rect x="105.20" y="470.95" width="6.3" height="1.55" fill="#000"/>
<text x="111.67" y="475.30" style="font-size:10.2px;font-weight:bold;letter-spacing:0.5px" stroke="#000" stroke-width="0.25">3</text>
<rect x="131.85" y="470.95" width="6.3" height="1.55" fill="#000"/>
<text x="138.20" y="475.30" style="font-size:10.2px;font-weight:bold;letter-spacing:0.5px" stroke="#000" stroke-width="0.25">2</text>
<rect x="158.51" y="470.95" width="6.3" height="1.55" fill="#000"/>
<text x="164.56" y="475.30" style="font-size:10.2px;font-weight:bold;letter-spacing:0.5px" stroke="#000" stroke-width="0.25">1</text>
<text x="187.97" y="475.30" style="font-size:10.2px;font-weight:bold;letter-spacing:0.5px" stroke="#000" stroke-width="0.25">0</text>
<text x="214.35" y="475.30" style="font-size:10.2px;font-weight:bold;letter-spacing:0.5px" stroke="#000" stroke-width="0.25">1</text>
<text x="241.13" y="475.30" style="font-size:10.2px;font-weight:bold;letter-spacing:0.5px" stroke="#000" stroke-width="0.25">2</text>
<text x="267.74" y="475.30" style="font-size:10.2px;font-weight:bold;letter-spacing:0.5px" stroke="#000" stroke-width="0.25">3</text>
<text x="294.19" y="475.30" style="font-size:10.2px;font-weight:bold;letter-spacing:0.5px" stroke="#000" stroke-width="0.25">4</text>
<text x="320.80" y="475.30" style="font-size:10.2px;font-weight:bold;letter-spacing:0.5px" stroke="#000" stroke-width="0.25">5</text>
<text x="25.10" y="288.05" style="font-size:10.2px;font-weight:bold;letter-spacing:0.3px" stroke="#000" stroke-width="0.25">0.1</text>
<text x="25.24" y="359.20" style="font-size:10.2px;font-weight:bold;letter-spacing:0.3px" stroke="#000" stroke-width="0.25">0.0</text>
<rect x="18.81" y="426.00" width="6.3" height="1.55" fill="#000"/>
<text x="25.10" y="430.35" style="font-size:10.2px;font-weight:bold;letter-spacing:0.3px" stroke="#000" stroke-width="0.25">0.1</text>
<text x="183.19" y="493.40" style="font-size:11.5px;font-weight:bold;" fill="#000" letter-spacing="0.5">(V)</text>
<text transform="translate(8.9 355.3) rotate(-90)" text-anchor="middle" style="font-size:11.5px;font-weight:bold">(A)</text>
</g>
<g>
<line x1="397.22" y1="255.05" x2="397.22" y2="461.50" stroke="#c8c8c8" stroke-width="0.7"/>
<line x1="411.31" y1="255.05" x2="411.31" y2="461.50" stroke="#d8d8d8" stroke-width="0.6" stroke-dasharray="1 1"/>
<line x1="425.41" y1="255.05" x2="425.41" y2="461.50" stroke="#c8c8c8" stroke-width="0.7"/>
<line x1="439.50" y1="255.05" x2="439.50" y2="461.50" stroke="#d8d8d8" stroke-width="0.6" stroke-dasharray="1 1"/>
<line x1="453.60" y1="255.05" x2="453.60" y2="461.50" stroke="#c8c8c8" stroke-width="0.7"/>
<line x1="467.69" y1="255.05" x2="467.69" y2="461.50" stroke="#d8d8d8" stroke-width="0.6" stroke-dasharray="1 1"/>
<line x1="481.79" y1="255.05" x2="481.79" y2="461.50" stroke="#c8c8c8" stroke-width="0.7"/>
<line x1="495.88" y1="255.05" x2="495.88" y2="461.50" stroke="#d8d8d8" stroke-width="0.6" stroke-dasharray="1 1"/>
<line x1="509.98" y1="255.05" x2="509.98" y2="461.50" stroke="#c8c8c8" stroke-width="0.7"/>
<line x1="524.07" y1="255.05" x2="524.07" y2="461.50" stroke="#d8d8d8" stroke-width="0.6" stroke-dasharray="1 1"/>
<line x1="538.17" y1="255.05" x2="538.17" y2="461.50" stroke="#c8c8c8" stroke-width="0.7"/>
<line x1="552.26" y1="255.05" x2="552.26" y2="461.50" stroke="#d8d8d8" stroke-width="0.6" stroke-dasharray="1 1"/>
<line x1="566.36" y1="255.05" x2="566.36" y2="461.50" stroke="#c8c8c8" stroke-width="0.7"/>
<line x1="580.45" y1="255.05" x2="580.45" y2="461.50" stroke="#d8d8d8" stroke-width="0.6" stroke-dasharray="1 1"/>
<line x1="594.55" y1="255.05" x2="594.55" y2="461.50" stroke="#c8c8c8" stroke-width="0.7"/>
<line x1="608.64" y1="255.05" x2="608.64" y2="461.50" stroke="#d8d8d8" stroke-width="0.6" stroke-dasharray="1 1"/>
<line x1="622.74" y1="255.05" x2="622.74" y2="461.50" stroke="#c8c8c8" stroke-width="0.7"/>
<line x1="636.83" y1="255.05" x2="636.83" y2="461.50" stroke="#d8d8d8" stroke-width="0.6" stroke-dasharray="1 1"/>
<line x1="650.93" y1="255.05" x2="650.93" y2="461.50" stroke="#c8c8c8" stroke-width="0.7"/>
<line x1="665.02" y1="255.05" x2="665.02" y2="461.50" stroke="#d8d8d8" stroke-width="0.6" stroke-dasharray="1 1"/>
<line x1="679.12" y1="255.05" x2="679.12" y2="461.50" stroke="#c8c8c8" stroke-width="0.7"/>
<line x1="397.25" y1="462.17" x2="679.05" y2="462.17" stroke="#d8d8d8" stroke-width="0.6" stroke-dasharray="1 1"/>
<line x1="397.25" y1="439.14" x2="679.05" y2="439.14" stroke="#c8c8c8" stroke-width="0.7"/>
<line x1="397.25" y1="416.11" x2="679.05" y2="416.11" stroke="#d8d8d8" stroke-width="0.6" stroke-dasharray="1 1"/>
<line x1="397.25" y1="393.08" x2="679.05" y2="393.08" stroke="#c8c8c8" stroke-width="0.7"/>
<line x1="397.25" y1="370.05" x2="679.05" y2="370.05" stroke="#d8d8d8" stroke-width="0.6" stroke-dasharray="1 1"/>
<line x1="397.25" y1="347.02" x2="679.05" y2="347.02" stroke="#c8c8c8" stroke-width="0.7"/>
<line x1="397.25" y1="323.99" x2="679.05" y2="323.99" stroke="#d8d8d8" stroke-width="0.6" stroke-dasharray="1 1"/>
<line x1="397.25" y1="300.96" x2="679.05" y2="300.96" stroke="#c8c8c8" stroke-width="0.7"/>
<line x1="397.25" y1="277.93" x2="679.05" y2="277.93" stroke="#d8d8d8" stroke-width="0.6" stroke-dasharray="1 1"/>
<line x1="397.25" y1="254.90" x2="679.05" y2="254.90" stroke="#c8c8c8" stroke-width="0.7"/>
<line x1="397.22" y1="461.50" x2="397.22" y2="456.90" stroke="#000" stroke-width="1.4"/>
<line x1="397.22" y1="255.05" x2="397.22" y2="259.65" stroke="#000" stroke-width="1.4"/>
<line x1="411.31" y1="461.50" x2="411.31" y2="458.90" stroke="#000" stroke-width="1.4"/>
<line x1="411.31" y1="255.05" x2="411.31" y2="257.65" stroke="#000" stroke-width="1.4"/>
<line x1="425.41" y1="461.50" x2="425.41" y2="456.90" stroke="#000" stroke-width="1.4"/>
<line x1="425.41" y1="255.05" x2="425.41" y2="259.65" stroke="#000" stroke-width="1.4"/>
<line x1="439.50" y1="461.50" x2="439.50" y2="458.90" stroke="#000" stroke-width="1.4"/>
<line x1="439.50" y1="255.05" x2="439.50" y2="257.65" stroke="#000" stroke-width="1.4"/>
<line x1="453.60" y1="461.50" x2="453.60" y2="456.90" stroke="#000" stroke-width="1.4"/>
<line x1="453.60" y1="255.05" x2="453.60" y2="259.65" stroke="#000" stroke-width="1.4"/>
<line x1="467.69" y1="461.50" x2="467.69" y2="458.90" stroke="#000" stroke-width="1.4"/>
<line x1="467.69" y1="255.05" x2="467.69" y2="257.65" stroke="#000" stroke-width="1.4"/>
<line x1="481.79" y1="461.50" x2="481.79" y2="456.90" stroke="#000" stroke-width="1.4"/>
<line x1="481.79" y1="255.05" x2="481.79" y2="259.65" stroke="#000" stroke-width="1.4"/>
<line x1="495.88" y1="461.50" x2="495.88" y2="458.90" stroke="#000" stroke-width="1.4"/>
<line x1="495.88" y1="255.05" x2="495.88" y2="257.65" stroke="#000" stroke-width="1.4"/>
<line x1="509.98" y1="461.50" x2="509.98" y2="456.90" stroke="#000" stroke-width="1.4"/>
<line x1="509.98" y1="255.05" x2="509.98" y2="259.65" stroke="#000" stroke-width="1.4"/>
<line x1="524.07" y1="461.50" x2="524.07" y2="458.90" stroke="#000" stroke-width="1.4"/>
<line x1="524.07" y1="255.05" x2="524.07" y2="257.65" stroke="#000" stroke-width="1.4"/>
<line x1="538.17" y1="461.50" x2="538.17" y2="456.90" stroke="#000" stroke-width="1.4"/>
<line x1="538.17" y1="255.05" x2="538.17" y2="259.65" stroke="#000" stroke-width="1.4"/>
<line x1="552.26" y1="461.50" x2="552.26" y2="458.90" stroke="#000" stroke-width="1.4"/>
<line x1="552.26" y1="255.05" x2="552.26" y2="257.65" stroke="#000" stroke-width="1.4"/>
<line x1="566.36" y1="461.50" x2="566.36" y2="456.90" stroke="#000" stroke-width="1.4"/>
<line x1="566.36" y1="255.05" x2="566.36" y2="259.65" stroke="#000" stroke-width="1.4"/>
<line x1="580.45" y1="461.50" x2="580.45" y2="458.90" stroke="#000" stroke-width="1.4"/>
<line x1="580.45" y1="255.05" x2="580.45" y2="257.65" stroke="#000" stroke-width="1.4"/>
<line x1="594.55" y1="461.50" x2="594.55" y2="456.90" stroke="#000" stroke-width="1.4"/>
<line x1="594.55" y1="255.05" x2="594.55" y2="259.65" stroke="#000" stroke-width="1.4"/>
<line x1="608.64" y1="461.50" x2="608.64" y2="458.90" stroke="#000" stroke-width="1.4"/>
<line x1="608.64" y1="255.05" x2="608.64" y2="257.65" stroke="#000" stroke-width="1.4"/>
<line x1="622.74" y1="461.50" x2="622.74" y2="456.90" stroke="#000" stroke-width="1.4"/>
<line x1="622.74" y1="255.05" x2="622.74" y2="259.65" stroke="#000" stroke-width="1.4"/>
<line x1="636.83" y1="461.50" x2="636.83" y2="458.90" stroke="#000" stroke-width="1.4"/>
<line x1="636.83" y1="255.05" x2="636.83" y2="257.65" stroke="#000" stroke-width="1.4"/>
<line x1="650.93" y1="461.50" x2="650.93" y2="456.90" stroke="#000" stroke-width="1.4"/>
<line x1="650.93" y1="255.05" x2="650.93" y2="259.65" stroke="#000" stroke-width="1.4"/>
<line x1="665.02" y1="461.50" x2="665.02" y2="458.90" stroke="#000" stroke-width="1.4"/>
<line x1="665.02" y1="255.05" x2="665.02" y2="257.65" stroke="#000" stroke-width="1.4"/>
<line x1="679.12" y1="461.50" x2="679.12" y2="456.90" stroke="#000" stroke-width="1.4"/>
<line x1="679.12" y1="255.05" x2="679.12" y2="259.65" stroke="#000" stroke-width="1.4"/>
<line x1="397.25" y1="462.17" x2="399.85" y2="462.17" stroke="#000" stroke-width="1.4"/>
<line x1="679.05" y1="462.17" x2="676.45" y2="462.17" stroke="#000" stroke-width="1.4"/>
<line x1="397.25" y1="439.14" x2="401.85" y2="439.14" stroke="#000" stroke-width="1.4"/>
<line x1="679.05" y1="439.14" x2="674.45" y2="439.14" stroke="#000" stroke-width="1.4"/>
<line x1="397.25" y1="416.11" x2="399.85" y2="416.11" stroke="#000" stroke-width="1.4"/>
<line x1="679.05" y1="416.11" x2="676.45" y2="416.11" stroke="#000" stroke-width="1.4"/>
<line x1="397.25" y1="393.08" x2="401.85" y2="393.08" stroke="#000" stroke-width="1.4"/>
<line x1="679.05" y1="393.08" x2="674.45" y2="393.08" stroke="#000" stroke-width="1.4"/>
<line x1="397.25" y1="370.05" x2="399.85" y2="370.05" stroke="#000" stroke-width="1.4"/>
<line x1="679.05" y1="370.05" x2="676.45" y2="370.05" stroke="#000" stroke-width="1.4"/>
<line x1="397.25" y1="347.02" x2="401.85" y2="347.02" stroke="#000" stroke-width="1.4"/>
<line x1="679.05" y1="347.02" x2="674.45" y2="347.02" stroke="#000" stroke-width="1.4"/>
<line x1="397.25" y1="323.99" x2="399.85" y2="323.99" stroke="#000" stroke-width="1.4"/>
<line x1="679.05" y1="323.99" x2="676.45" y2="323.99" stroke="#000" stroke-width="1.4"/>
<line x1="397.25" y1="300.96" x2="401.85" y2="300.96" stroke="#000" stroke-width="1.4"/>
<line x1="679.05" y1="300.96" x2="674.45" y2="300.96" stroke="#000" stroke-width="1.4"/>
<line x1="397.25" y1="277.93" x2="399.85" y2="277.93" stroke="#000" stroke-width="1.4"/>
<line x1="679.05" y1="277.93" x2="676.45" y2="277.93" stroke="#000" stroke-width="1.4"/>
<line x1="397.25" y1="254.90" x2="401.85" y2="254.90" stroke="#000" stroke-width="1.4"/>
<line x1="679.05" y1="254.90" x2="674.45" y2="254.90" stroke="#000" stroke-width="1.4"/>
<path d="M425.41 268.61 L426.82 275.66 L428.23 282.44 L429.64 288.96 L431.05 295.23 L432.46 301.26 L433.87 307.06 L435.28 312.64 L436.69 318.01 L438.10 323.16 L439.50 328.12 L440.91 332.89 L442.32 337.48 L443.73 341.89 L445.14 346.13 L446.55 350.20 L447.96 354.12 L449.37 357.90 L450.78 361.52 L452.19 365.01 L453.60 368.37 L455.01 371.60 L456.42 374.70 L457.83 377.69 L459.24 380.57 L460.65 383.34 L462.06 386.00 L463.47 388.56 L464.88 391.03 L466.29 393.41 L467.69 395.69 L469.10 397.90 L470.51 400.02 L471.92 402.06 L473.33 404.03 L474.74 405.92 L476.15 407.75 L477.56 409.51 L478.97 411.20 L480.38 412.83 L481.79 414.40 L483.20 415.92 L484.61 417.37 L486.02 418.78 L487.43 420.13 L488.84 421.43 L490.25 422.68 L491.66 423.89 L493.07 425.04 L494.48 426.16 L495.88 427.23 L497.29 428.25 L498.70 429.24 L500.11 430.18 L501.52 431.09 L502.93 431.96 L504.34 432.78 L505.75 433.58 L507.16 434.33 L508.57 435.05 L509.98 435.73 L511.39 436.37 L512.80 436.98 L514.21 437.56 L515.62 438.10 L517.03 438.61 L518.44 439.08 L519.85 439.52 L521.26 439.92 L522.67 440.29 L524.07 440.62 L525.48 440.93 L526.89 441.19 L528.30 441.43 L529.71 441.62 L531.12 441.79 L532.53 441.92 L533.94 442.01 L535.35 442.07 L536.76 442.09 L538.17 442.08 L539.58 442.03 L540.99 441.94 L542.40 441.82 L543.81 441.66 L545.22 441.46 L546.63 441.23 L548.04 440.95 L549.45 440.64 L550.86 440.29 L552.26 439.90 L553.67 439.47 L555.08 438.99 L556.49 438.48 L557.90 437.93 L559.31 437.33 L560.72 436.69 L562.13 436.01 L563.54 435.28 L564.95 434.51 L566.36 433.69 L567.77 432.83 L569.18 431.93 L570.59 430.98 L572.00 429.98 L573.41 428.93 L574.82 427.83 L576.23 426.69 L577.64 425.50 L579.05 424.26 L580.45 422.96 L581.86 421.62 L583.27 420.22 L584.68 418.78 L586.09 417.28 L587.50 415.72 L588.91 414.11 L590.32 412.45 L591.73 410.73 L593.14 408.95 L594.55 407.12 L595.96 405.23 L597.37 403.28 L598.78 401.27 L600.19 399.20 L601.60 397.07 L603.01 394.87 L604.42 392.61 L605.83 390.29 L607.24 387.91 L608.64 385.45 L610.05 382.93 L611.46 380.34 L612.87 377.69 L614.28 374.96 L615.69 372.16 L617.10 369.28 L618.51 366.34 L619.92 363.31 L621.33 360.21 L622.74 357.03 L624.15 353.77 L625.56 350.43 L626.97 347.00 L628.38 343.49 L629.79 339.90 L631.20 336.21 L632.61 332.44 L634.02 328.57 L635.43 324.60 L636.83 320.54 L638.24 316.38 L639.65 312.12 L641.06 307.76 L642.47 303.28 L643.88 298.70 L645.29 294.01 L646.70 289.20 L648.11 284.28 L649.52 279.24 L650.93 274.07" fill="none" stroke="#ff0000" stroke-width="1.8" stroke-linejoin="round"/>
<rect x="397.25" y="255.05" width="281.8" height="206.45" fill="none" stroke="#000" stroke-width="1.8"/>
<rect x="438.7" y="261.4" width="57.6" height="16.6" fill="#fff" stroke="#3a3a3a" stroke-width="1.2"/>
<line x1="439.6" y1="269.6" x2="468" y2="269.6" stroke="#ff0000" stroke-width="1.5"/>
<text x="472.44" y="273.40" style="font-size:11.3px;font-weight:bold;" fill="#ff0000" >C-V</text>
<rect x="388.31" y="471.25" width="6.3" height="1.55" fill="#000"/>
<text x="394.70" y="475.60" style="font-size:10.2px;font-weight:bold;letter-spacing:0.5px" stroke="#000" stroke-width="0.25">50</text>
<rect x="416.42" y="471.25" width="6.3" height="1.55" fill="#000"/>
<text x="422.97" y="475.60" style="font-size:10.2px;font-weight:bold;letter-spacing:0.5px" stroke="#000" stroke-width="0.25">40</text>
<rect x="444.65" y="471.25" width="6.3" height="1.55" fill="#000"/>
<text x="451.12" y="475.60" style="font-size:10.2px;font-weight:bold;letter-spacing:0.5px" stroke="#000" stroke-width="0.25">30</text>
<rect x="472.90" y="471.25" width="6.3" height="1.55" fill="#000"/>
<text x="479.25" y="475.60" style="font-size:10.2px;font-weight:bold;letter-spacing:0.5px" stroke="#000" stroke-width="0.25">20</text>
<rect x="501.24" y="471.25" width="6.3" height="1.55" fill="#000"/>
<text x="507.30" y="475.60" style="font-size:10.2px;font-weight:bold;letter-spacing:0.5px" stroke="#000" stroke-width="0.25">10</text>
<text x="535.34" y="475.60" style="font-size:10.2px;font-weight:bold;letter-spacing:0.5px" stroke="#000" stroke-width="0.25">0</text>
<text x="560.33" y="475.60" style="font-size:10.2px;font-weight:bold;letter-spacing:0.5px" stroke="#000" stroke-width="0.25">10</text>
<text x="588.66" y="475.60" style="font-size:10.2px;font-weight:bold;letter-spacing:0.5px" stroke="#000" stroke-width="0.25">20</text>
<text x="616.91" y="475.60" style="font-size:10.2px;font-weight:bold;letter-spacing:0.5px" stroke="#000" stroke-width="0.25">30</text>
<text x="645.14" y="475.60" style="font-size:10.2px;font-weight:bold;letter-spacing:0.5px" stroke="#000" stroke-width="0.25">40</text>
<text x="673.25" y="475.60" style="font-size:10.2px;font-weight:bold;letter-spacing:0.5px" stroke="#000" stroke-width="0.25">50</text>
<text x="374.10" y="442.84" style="font-size:10.2px;font-weight:bold;letter-spacing:0.5px" stroke="#000" stroke-width="0.25">528</text>
<text x="374.20" y="396.78" style="font-size:10.2px;font-weight:bold;letter-spacing:0.5px" stroke="#000" stroke-width="0.25">530</text>
<text x="374.19" y="350.72" style="font-size:10.2px;font-weight:bold;letter-spacing:0.5px" stroke="#000" stroke-width="0.25">532</text>
<text x="373.84" y="304.66" style="font-size:10.2px;font-weight:bold;letter-spacing:0.5px" stroke="#000" stroke-width="0.25">534</text>
<text x="374.15" y="258.60" style="font-size:10.2px;font-weight:bold;letter-spacing:0.5px" stroke="#000" stroke-width="0.25">536</text>
<text x="509.34" y="491.10" style="font-size:11.2px;font-weight:bold;" fill="#000" >Voltage (V)</text>
<text transform="translate(363.9 357.8) rotate(-90)" text-anchor="middle" style="font-size:11.2px;font-weight:bold">Capacitance (pF)</text>
</g>
</svg>
</body></html>
